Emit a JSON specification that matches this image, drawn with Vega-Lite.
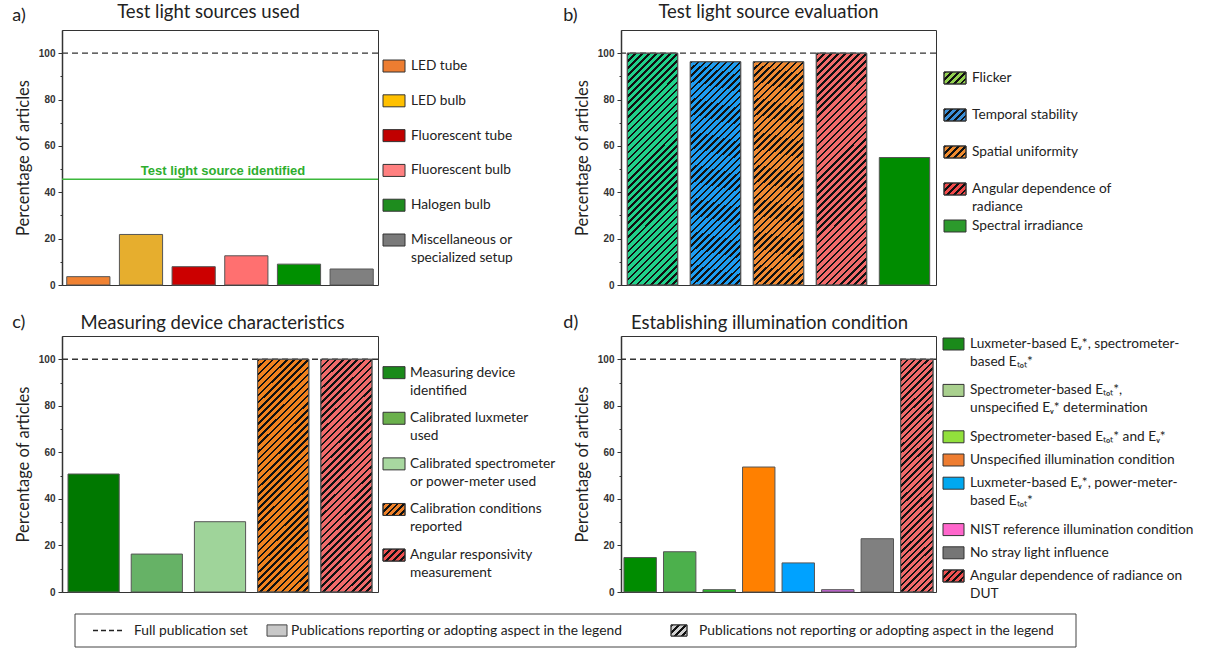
{
"$schema": "https://vega.github.io/schema/vega-lite/v6.json",
"background": "white",
"padding": {"left": 11, "top": 1, "right": 2, "bottom": 2},
"datasets": {
  "ref": [{"set": "Full publication set", "pct": 100}],
  "ident": [{"label": "Test light source identified", "pct": 45.6}],
  "a": [
    {"source": "LED tube", "pct": 3.6},
    {"source": "LED bulb", "pct": 21.8},
    {"source": "Fluorescent tube", "pct": 7.9},
    {"source": "Fluorescent bulb", "pct": 12.6},
    {"source": "Halogen bulb", "pct": 9.0},
    {"source": "Miscellaneous or\nspecialized setup", "pct": 6.9}
  ],
  "b": [
    {"aspect": "Flicker", "pct": 100, "reported": "No"},
    {"aspect": "Temporal stability", "pct": 96.3, "reported": "No"},
    {"aspect": "Spatial uniformity", "pct": 96.3, "reported": "No"},
    {"aspect": "Angular dependence of\nradiance", "pct": 100, "reported": "No"},
    {"aspect": "Spectral irradiance", "pct": 55.0, "reported": "Yes"}
  ],
  "c": [
    {"aspect": "Measuring device\nidentified", "pct": 50.7, "reported": "Yes"},
    {"aspect": "Calibrated luxmeter\nused", "pct": 16.3, "reported": "Yes"},
    {"aspect": "Calibrated spectrometer\nor power-meter used", "pct": 30.2, "reported": "Yes"},
    {"aspect": "Calibration conditions\nreported", "pct": 100, "reported": "No"},
    {"aspect": "Angular responsivity\nmeasurement", "pct": 100, "reported": "No"}
  ],
  "d": [
    {"condition": "Luxmeter-based E\u1d65*, spectrometer-\nbased E\u209c\u2092\u209c*", "pct": 14.8, "reported": "Yes"},
    {"condition": "Spectrometer-based E\u209c\u2092\u209c*,\nunspecified E\u1d65* determination", "pct": 17.3, "reported": "Yes"},
    {"condition": "Spectrometer-based E\u209c\u2092\u209c* and E\u1d65*", "pct": 1.0, "reported": "Yes"},
    {"condition": "Unspecified illumination condition", "pct": 53.7, "reported": "Yes"},
    {"condition": "Luxmeter-based E\u1d65*, power-meter-\nbased E\u209c\u2092\u209c*", "pct": 12.5, "reported": "Yes"},
    {"condition": "NIST reference illumination condition", "pct": 1.0, "reported": "Yes"},
    {"condition": "No stray light influence", "pct": 22.9, "reported": "Yes"},
    {"condition": "Angular dependence of radiance on\nDUT", "pct": 100, "reported": "No"}
  ],
  "key": [
    {"entry": "Full publication set"},
    {"entry": "Publications reporting or adopting aspect in the legend"},
    {"entry": "Publications not reporting or adopting aspect in the legend"}
  ]
},
"columns": 4,
"bounds": "flush",
"align": "each",
"spacing": {"row": 22, "column": 0},
"resolve": {"scale": {"color": "independent", "x": "independent", "y": "independent"}},
"concat": [
  {
    "width": 316, "height": 255,
    "title": {"text": "a)", "dx": -3, "offset": -22.5},
    "encoding": {"y": {"field": "pct", "type": "quantitative", "title": "Percentage of articles", "scale": {"domain": [0, 110], "nice": false}, "axis": {"values": [0,10,20,30,40,50,60,70,80,90,100], "labelExpr": "datum.value % 20 === 0 ? datum.label : ''", "tickSize": {"condition": {"test": "datum.value % 20 !== 0", "value": 2}, "value": 4}, "labelPadding": 3, "titlePadding": 7, "domainWidth": 1.5}}},
    "layer": [
      {"data": {"name": "ref"}, "mark": {"type": "rule", "color": "#333", "strokeWidth": 1.3, "strokeDash": [6, 4]}, "encoding": {}},
      {"data": {"name": "ident"}, "mark": {"type": "rule", "color": "#3cb83c", "strokeWidth": 1.5}, "encoding": {}},
      {"data": {"name": "ident"}, "mark": {"type": "text", "font": "Liberation Sans", "fontWeight": "bold", "fontSize": 13, "color": "#2eae2e", "baseline": "alphabetic", "dy": -4, "dx": 3}, "encoding": {"text": {"field": "label"}}},
      {"data": {"name": "a"}, "mark": {"type": "bar", "stroke": "#555", "strokeWidth": 1},
       "encoding": {
         "x": {"field": "source", "type": "nominal", "sort": null, "scale": {"paddingInner": 0.18, "paddingOuter": 0.09}, "axis": {"orient": "top", "labels": false, "ticks": false, "domain": false, "title": "Test light sources used", "titlePadding": 9, "titleX": 146}},
         "color": {"field": "source", "type": "nominal", "sort": null, "scale": {"range": ["#f08232", "#e6ae2e", "#cc0000", "#ff7070", "#009000", "#808080"]}, "legend": null}
       }}
    ]
  },
  {
    "width": 243, "height": 284,
    "view": {"stroke": null},
    "data": {"name": "a"},
    "encoding": {"y": {"field": "source", "type": "nominal", "sort": null, "axis": null, "scale": {"type": "band", "paddingInner": 0.655, "paddingOuter": 0.908, "align": 0.475,
      "domain": ["LED tube", "LED bulb", "Fluorescent tube", "Fluorescent bulb", "Halogen bulb", "Miscellaneous or\nspecialized setup", "slotEnd"]}}},
    "layer": [
      {"mark": {"type": "rect", "stroke": "#333", "strokeWidth": 1},
       "encoding": {
         "x": {"datum": 5, "type": "quantitative", "scale": {"domain": [0, 243], "nice": false, "zero": false}, "axis": null},
         "x2": {"datum": 27},
         "color": {"field": "source", "type": "nominal", "sort": null, "scale": {"range": ["#ed7d31", "#ffc000", "#c00000", "#ff8080", "#1e8c1e", "#7a7a7a"]}, "legend": null}
       }},
      {"mark": {"type": "text", "align": "left", "baseline": "top", "dy": -7, "fontSize": 13.7, "lineHeight": 18, "lineBreak": "\n", "color": "#222"},
       "encoding": {"x": {"datum": 33, "type": "quantitative"}, "text": {"field": "source"}}}
    ]
  },
  {
    "width": 315, "height": 255,
    "title": {"text": "b)", "dx": -11, "offset": -22.5},
    "encoding": {"y": {"field": "pct", "type": "quantitative", "title": "Percentage of articles", "scale": {"domain": [0, 110], "nice": false}, "axis": {"values": [0,10,20,30,40,50,60,70,80,90,100], "labelExpr": "datum.value % 20 === 0 ? datum.label : ''", "tickSize": {"condition": {"test": "datum.value % 20 !== 0", "value": 2}, "value": 4}, "labelPadding": 3, "titlePadding": 7, "domainWidth": 1.5}}},
    "layer": [
      {"data": {"name": "ref"}, "mark": {"type": "rule", "color": "#333", "strokeWidth": 1.3, "strokeDash": [6, 4]}, "encoding": {}},
      {"data": {"name": "b"}, "mark": {"type": "bar", "stroke": "#555", "strokeWidth": 1},
       "encoding": {
         "x": {"field": "aspect", "type": "nominal", "sort": null, "scale": {"paddingInner": 0.2, "paddingOuter": 0.1}, "axis": {"orient": "top", "labels": false, "ticks": false, "domain": false, "title": "Test light source evaluation", "titlePadding": 9, "titleX": 147}},
         "color": {"field": "aspect", "type": "nominal", "sort": null, "scale": {"range": ["#20d08a", "#1e9cf0", "#f08a32", "#f26b6b", "#008c00"]}, "legend": null}
       }},
      {"data": {"name": "b"}, "transform": [{"filter": "datum.reported === 'No'"}],
       "mark": {"type": "bar", "stroke": "#555", "strokeWidth": 1, "fill": {"gradient": "linear", "x1": 0, "y1": 0, "x2": 0.2531, "y2": 1.1626, "stops": [
      {"offset":0,"color":"#111"},{"offset":0.009,"color":"#111"},{"offset":0.009,"color":"transparent"},
      {"offset":0.025,"color":"transparent"},{"offset":0.025,"color":"#111"},{"offset":0.034,"color":"#111"},{"offset":0.034,"color":"transparent"},
      {"offset":0.05,"color":"transparent"},{"offset":0.05,"color":"#111"},{"offset":0.059,"color":"#111"},{"offset":0.059,"color":"transparent"},
      {"offset":0.075,"color":"transparent"},{"offset":0.075,"color":"#111"},{"offset":0.084,"color":"#111"},{"offset":0.084,"color":"transparent"},
      {"offset":0.1,"color":"transparent"},{"offset":0.1,"color":"#111"},{"offset":0.109,"color":"#111"},{"offset":0.109,"color":"transparent"},
      {"offset":0.125,"color":"transparent"},{"offset":0.125,"color":"#111"},{"offset":0.134,"color":"#111"},{"offset":0.134,"color":"transparent"},
      {"offset":0.15,"color":"transparent"},{"offset":0.15,"color":"#111"},{"offset":0.159,"color":"#111"},{"offset":0.159,"color":"transparent"},
      {"offset":0.175,"color":"transparent"},{"offset":0.175,"color":"#111"},{"offset":0.184,"color":"#111"},{"offset":0.184,"color":"transparent"},
      {"offset":0.2,"color":"transparent"},{"offset":0.2,"color":"#111"},{"offset":0.209,"color":"#111"},{"offset":0.209,"color":"transparent"},
      {"offset":0.225,"color":"transparent"},{"offset":0.225,"color":"#111"},{"offset":0.234,"color":"#111"},{"offset":0.234,"color":"transparent"},
      {"offset":0.25,"color":"transparent"},{"offset":0.25,"color":"#111"},{"offset":0.259,"color":"#111"},{"offset":0.259,"color":"transparent"},
      {"offset":0.275,"color":"transparent"},{"offset":0.275,"color":"#111"},{"offset":0.284,"color":"#111"},{"offset":0.284,"color":"transparent"},
      {"offset":0.3,"color":"transparent"},{"offset":0.3,"color":"#111"},{"offset":0.309,"color":"#111"},{"offset":0.309,"color":"transparent"},
      {"offset":0.325,"color":"transparent"},{"offset":0.325,"color":"#111"},{"offset":0.334,"color":"#111"},{"offset":0.334,"color":"transparent"},
      {"offset":0.35,"color":"transparent"},{"offset":0.35,"color":"#111"},{"offset":0.359,"color":"#111"},{"offset":0.359,"color":"transparent"},
      {"offset":0.375,"color":"transparent"},{"offset":0.375,"color":"#111"},{"offset":0.384,"color":"#111"},{"offset":0.384,"color":"transparent"},
      {"offset":0.4,"color":"transparent"},{"offset":0.4,"color":"#111"},{"offset":0.409,"color":"#111"},{"offset":0.409,"color":"transparent"},
      {"offset":0.425,"color":"transparent"},{"offset":0.425,"color":"#111"},{"offset":0.434,"color":"#111"},{"offset":0.434,"color":"transparent"},
      {"offset":0.45,"color":"transparent"},{"offset":0.45,"color":"#111"},{"offset":0.459,"color":"#111"},{"offset":0.459,"color":"transparent"},
      {"offset":0.475,"color":"transparent"},{"offset":0.475,"color":"#111"},{"offset":0.484,"color":"#111"},{"offset":0.484,"color":"transparent"},
      {"offset":0.5,"color":"transparent"},{"offset":0.5,"color":"#111"},{"offset":0.509,"color":"#111"},{"offset":0.509,"color":"transparent"},
      {"offset":0.525,"color":"transparent"},{"offset":0.525,"color":"#111"},{"offset":0.534,"color":"#111"},{"offset":0.534,"color":"transparent"},
      {"offset":0.55,"color":"transparent"},{"offset":0.55,"color":"#111"},{"offset":0.559,"color":"#111"},{"offset":0.559,"color":"transparent"},
      {"offset":0.575,"color":"transparent"},{"offset":0.575,"color":"#111"},{"offset":0.584,"color":"#111"},{"offset":0.584,"color":"transparent"},
      {"offset":0.6,"color":"transparent"},{"offset":0.6,"color":"#111"},{"offset":0.609,"color":"#111"},{"offset":0.609,"color":"transparent"},
      {"offset":0.625,"color":"transparent"},{"offset":0.625,"color":"#111"},{"offset":0.634,"color":"#111"},{"offset":0.634,"color":"transparent"},
      {"offset":0.65,"color":"transparent"},{"offset":0.65,"color":"#111"},{"offset":0.659,"color":"#111"},{"offset":0.659,"color":"transparent"},
      {"offset":0.675,"color":"transparent"},{"offset":0.675,"color":"#111"},{"offset":0.684,"color":"#111"},{"offset":0.684,"color":"transparent"},
      {"offset":0.7,"color":"transparent"},{"offset":0.7,"color":"#111"},{"offset":0.709,"color":"#111"},{"offset":0.709,"color":"transparent"},
      {"offset":0.725,"color":"transparent"},{"offset":0.725,"color":"#111"},{"offset":0.734,"color":"#111"},{"offset":0.734,"color":"transparent"},
      {"offset":0.75,"color":"transparent"},{"offset":0.75,"color":"#111"},{"offset":0.759,"color":"#111"},{"offset":0.759,"color":"transparent"},
      {"offset":0.775,"color":"transparent"},{"offset":0.775,"color":"#111"},{"offset":0.784,"color":"#111"},{"offset":0.784,"color":"transparent"},
      {"offset":0.8,"color":"transparent"},{"offset":0.8,"color":"#111"},{"offset":0.809,"color":"#111"},{"offset":0.809,"color":"transparent"},
      {"offset":0.825,"color":"transparent"},{"offset":0.825,"color":"#111"},{"offset":0.834,"color":"#111"},{"offset":0.834,"color":"transparent"},
      {"offset":0.85,"color":"transparent"},{"offset":0.85,"color":"#111"},{"offset":0.859,"color":"#111"},{"offset":0.859,"color":"transparent"},
      {"offset":0.875,"color":"transparent"},{"offset":0.875,"color":"#111"},{"offset":0.884,"color":"#111"},{"offset":0.884,"color":"transparent"},
      {"offset":0.9,"color":"transparent"},{"offset":0.9,"color":"#111"},{"offset":0.909,"color":"#111"},{"offset":0.909,"color":"transparent"},
      {"offset":0.925,"color":"transparent"},{"offset":0.925,"color":"#111"},{"offset":0.934,"color":"#111"},{"offset":0.934,"color":"transparent"},
      {"offset":0.95,"color":"transparent"},{"offset":0.95,"color":"#111"},{"offset":0.959,"color":"#111"},{"offset":0.959,"color":"transparent"},
      {"offset":0.975,"color":"transparent"},{"offset":0.975,"color":"#111"},{"offset":0.984,"color":"#111"},{"offset":0.984,"color":"transparent"},
      {"offset":1,"color":"transparent"}]}},
       "encoding": {
         "x": {"field": "aspect", "type": "nominal", "sort": null, "scale": {"paddingInner": 0.2, "paddingOuter": 0.1}, "axis": {"orient": "top", "labels": false, "ticks": false, "domain": false, "title": "Test light source evaluation", "titlePadding": 9, "titleX": 147}}
       }}
    ]
  },
  {
    "width": 262, "height": 255,
    "view": {"stroke": null},
    "data": {"name": "b"},
    "encoding": {"y": {"field": "aspect", "type": "nominal", "sort": null, "axis": null, "scale": {"type": "band", "paddingInner": 0.676, "paddingOuter": 0.784, "align": 0.724,
      "domain": ["Flicker", "Temporal stability", "Spatial uniformity", "Angular dependence of\nradiance", "Spectral irradiance", "slotEnd"]}}},
    "layer": [
      {"mark": {"type": "rect", "stroke": "#333", "strokeWidth": 1},
       "encoding": {
         "x": {"datum": 8, "type": "quantitative", "scale": {"domain": [0, 262], "nice": false, "zero": false}, "axis": null},
         "x2": {"datum": 30},
         "color": {"field": "aspect", "type": "nominal", "sort": null, "scale": {"range": ["#92d050", "#3b8fd8", "#ee8a2e", "#f04a4a", "#2c9a2c"]}, "legend": null}
       }},
      {"transform": [{"filter": "datum.reported === 'No'"}],
       "mark": {"type": "rect", "stroke": "#333", "strokeWidth": 1, "fill": {"gradient": "linear", "x1": 0, "y1": 0, "x2": 1.1912, "y2": 0.6497, "stops": [
      {"offset":0,"color":"#111"},{"offset":0.08,"color":"#111"},{"offset":0.08,"color":"transparent"},
      {"offset":0.2,"color":"transparent"},{"offset":0.2,"color":"#111"},{"offset":0.28,"color":"#111"},{"offset":0.28,"color":"transparent"},
      {"offset":0.4,"color":"transparent"},{"offset":0.4,"color":"#111"},{"offset":0.48,"color":"#111"},{"offset":0.48,"color":"transparent"},
      {"offset":0.6,"color":"transparent"},{"offset":0.6,"color":"#111"},{"offset":0.68,"color":"#111"},{"offset":0.68,"color":"transparent"},
      {"offset":0.8,"color":"transparent"},{"offset":0.8,"color":"#111"},{"offset":0.88,"color":"#111"},{"offset":0.88,"color":"transparent"},
      {"offset":1,"color":"transparent"}]}},
       "encoding": {"x": {"datum": 8, "type": "quantitative"}, "x2": {"datum": 30}}},
      {"mark": {"type": "text", "align": "left", "baseline": "top", "dy": -7, "fontSize": 13.7, "lineHeight": 18, "lineBreak": "\n", "color": "#222"},
       "encoding": {"x": {"datum": 36, "type": "quantitative"}, "text": {"field": "aspect"}}}
    ]
  },
  {
    "width": 316, "height": 256,
    "title": {"text": "c)", "dx": -3, "offset": -18},
    "encoding": {"y": {"field": "pct", "type": "quantitative", "title": "Percentage of articles", "scale": {"domain": [0, 110], "nice": false}, "axis": {"values": [0,10,20,30,40,50,60,70,80,90,100], "labelExpr": "datum.value % 20 === 0 ? datum.label : ''", "tickSize": {"condition": {"test": "datum.value % 20 !== 0", "value": 2}, "value": 4}, "labelPadding": 3, "titlePadding": 7, "domainWidth": 1.5}}},
    "layer": [
      {"data": {"name": "ref"}, "mark": {"type": "rule", "color": "#333", "strokeWidth": 1.3, "strokeDash": [6, 4]}, "encoding": {}},
      {"data": {"name": "c"}, "mark": {"type": "bar", "stroke": "#555", "strokeWidth": 1},
       "encoding": {
         "x": {"field": "aspect", "type": "nominal", "sort": null, "scale": {"paddingInner": 0.19, "paddingOuter": 0.095}, "axis": {"orient": "top", "labels": false, "ticks": false, "domain": false, "title": "Measuring device characteristics", "titlePadding": 3.5, "titleX": 150}},
         "color": {"field": "aspect", "type": "nominal", "sort": null, "scale": {"range": ["#007800", "#66b266", "#9fd49a", "#f0821e", "#f06a6a"]}, "legend": null}
       }},
      {"data": {"name": "c"}, "transform": [{"filter": "datum.reported === 'No'"}],
       "mark": {"type": "bar", "stroke": "#555", "strokeWidth": 1, "fill": {"gradient": "linear", "x1": 0, "y1": 0, "x2": 0.2531, "y2": 1.1626, "stops": [
      {"offset":0,"color":"#111"},{"offset":0.009,"color":"#111"},{"offset":0.009,"color":"transparent"},
      {"offset":0.025,"color":"transparent"},{"offset":0.025,"color":"#111"},{"offset":0.034,"color":"#111"},{"offset":0.034,"color":"transparent"},
      {"offset":0.05,"color":"transparent"},{"offset":0.05,"color":"#111"},{"offset":0.059,"color":"#111"},{"offset":0.059,"color":"transparent"},
      {"offset":0.075,"color":"transparent"},{"offset":0.075,"color":"#111"},{"offset":0.084,"color":"#111"},{"offset":0.084,"color":"transparent"},
      {"offset":0.1,"color":"transparent"},{"offset":0.1,"color":"#111"},{"offset":0.109,"color":"#111"},{"offset":0.109,"color":"transparent"},
      {"offset":0.125,"color":"transparent"},{"offset":0.125,"color":"#111"},{"offset":0.134,"color":"#111"},{"offset":0.134,"color":"transparent"},
      {"offset":0.15,"color":"transparent"},{"offset":0.15,"color":"#111"},{"offset":0.159,"color":"#111"},{"offset":0.159,"color":"transparent"},
      {"offset":0.175,"color":"transparent"},{"offset":0.175,"color":"#111"},{"offset":0.184,"color":"#111"},{"offset":0.184,"color":"transparent"},
      {"offset":0.2,"color":"transparent"},{"offset":0.2,"color":"#111"},{"offset":0.209,"color":"#111"},{"offset":0.209,"color":"transparent"},
      {"offset":0.225,"color":"transparent"},{"offset":0.225,"color":"#111"},{"offset":0.234,"color":"#111"},{"offset":0.234,"color":"transparent"},
      {"offset":0.25,"color":"transparent"},{"offset":0.25,"color":"#111"},{"offset":0.259,"color":"#111"},{"offset":0.259,"color":"transparent"},
      {"offset":0.275,"color":"transparent"},{"offset":0.275,"color":"#111"},{"offset":0.284,"color":"#111"},{"offset":0.284,"color":"transparent"},
      {"offset":0.3,"color":"transparent"},{"offset":0.3,"color":"#111"},{"offset":0.309,"color":"#111"},{"offset":0.309,"color":"transparent"},
      {"offset":0.325,"color":"transparent"},{"offset":0.325,"color":"#111"},{"offset":0.334,"color":"#111"},{"offset":0.334,"color":"transparent"},
      {"offset":0.35,"color":"transparent"},{"offset":0.35,"color":"#111"},{"offset":0.359,"color":"#111"},{"offset":0.359,"color":"transparent"},
      {"offset":0.375,"color":"transparent"},{"offset":0.375,"color":"#111"},{"offset":0.384,"color":"#111"},{"offset":0.384,"color":"transparent"},
      {"offset":0.4,"color":"transparent"},{"offset":0.4,"color":"#111"},{"offset":0.409,"color":"#111"},{"offset":0.409,"color":"transparent"},
      {"offset":0.425,"color":"transparent"},{"offset":0.425,"color":"#111"},{"offset":0.434,"color":"#111"},{"offset":0.434,"color":"transparent"},
      {"offset":0.45,"color":"transparent"},{"offset":0.45,"color":"#111"},{"offset":0.459,"color":"#111"},{"offset":0.459,"color":"transparent"},
      {"offset":0.475,"color":"transparent"},{"offset":0.475,"color":"#111"},{"offset":0.484,"color":"#111"},{"offset":0.484,"color":"transparent"},
      {"offset":0.5,"color":"transparent"},{"offset":0.5,"color":"#111"},{"offset":0.509,"color":"#111"},{"offset":0.509,"color":"transparent"},
      {"offset":0.525,"color":"transparent"},{"offset":0.525,"color":"#111"},{"offset":0.534,"color":"#111"},{"offset":0.534,"color":"transparent"},
      {"offset":0.55,"color":"transparent"},{"offset":0.55,"color":"#111"},{"offset":0.559,"color":"#111"},{"offset":0.559,"color":"transparent"},
      {"offset":0.575,"color":"transparent"},{"offset":0.575,"color":"#111"},{"offset":0.584,"color":"#111"},{"offset":0.584,"color":"transparent"},
      {"offset":0.6,"color":"transparent"},{"offset":0.6,"color":"#111"},{"offset":0.609,"color":"#111"},{"offset":0.609,"color":"transparent"},
      {"offset":0.625,"color":"transparent"},{"offset":0.625,"color":"#111"},{"offset":0.634,"color":"#111"},{"offset":0.634,"color":"transparent"},
      {"offset":0.65,"color":"transparent"},{"offset":0.65,"color":"#111"},{"offset":0.659,"color":"#111"},{"offset":0.659,"color":"transparent"},
      {"offset":0.675,"color":"transparent"},{"offset":0.675,"color":"#111"},{"offset":0.684,"color":"#111"},{"offset":0.684,"color":"transparent"},
      {"offset":0.7,"color":"transparent"},{"offset":0.7,"color":"#111"},{"offset":0.709,"color":"#111"},{"offset":0.709,"color":"transparent"},
      {"offset":0.725,"color":"transparent"},{"offset":0.725,"color":"#111"},{"offset":0.734,"color":"#111"},{"offset":0.734,"color":"transparent"},
      {"offset":0.75,"color":"transparent"},{"offset":0.75,"color":"#111"},{"offset":0.759,"color":"#111"},{"offset":0.759,"color":"transparent"},
      {"offset":0.775,"color":"transparent"},{"offset":0.775,"color":"#111"},{"offset":0.784,"color":"#111"},{"offset":0.784,"color":"transparent"},
      {"offset":0.8,"color":"transparent"},{"offset":0.8,"color":"#111"},{"offset":0.809,"color":"#111"},{"offset":0.809,"color":"transparent"},
      {"offset":0.825,"color":"transparent"},{"offset":0.825,"color":"#111"},{"offset":0.834,"color":"#111"},{"offset":0.834,"color":"transparent"},
      {"offset":0.85,"color":"transparent"},{"offset":0.85,"color":"#111"},{"offset":0.859,"color":"#111"},{"offset":0.859,"color":"transparent"},
      {"offset":0.875,"color":"transparent"},{"offset":0.875,"color":"#111"},{"offset":0.884,"color":"#111"},{"offset":0.884,"color":"transparent"},
      {"offset":0.9,"color":"transparent"},{"offset":0.9,"color":"#111"},{"offset":0.909,"color":"#111"},{"offset":0.909,"color":"transparent"},
      {"offset":0.925,"color":"transparent"},{"offset":0.925,"color":"#111"},{"offset":0.934,"color":"#111"},{"offset":0.934,"color":"transparent"},
      {"offset":0.95,"color":"transparent"},{"offset":0.95,"color":"#111"},{"offset":0.959,"color":"#111"},{"offset":0.959,"color":"transparent"},
      {"offset":0.975,"color":"transparent"},{"offset":0.975,"color":"#111"},{"offset":0.984,"color":"#111"},{"offset":0.984,"color":"transparent"},
      {"offset":1,"color":"transparent"}]}},
       "encoding": {
         "x": {"field": "aspect", "type": "nominal", "sort": null, "scale": {"paddingInner": 0.19, "paddingOuter": 0.095}, "axis": {"orient": "top", "labels": false, "ticks": false, "domain": false, "title": "Measuring device characteristics", "titlePadding": 3.5, "titleX": 150}}
       }}
    ]
  },
  {
    "width": 243, "height": 256,
    "view": {"stroke": null},
    "data": {"name": "c"},
    "encoding": {"y": {"field": "aspect", "type": "nominal", "sort": null, "axis": null, "scale": {"type": "band", "paddingInner": 0.737, "paddingOuter": 0.675, "align": 0.498}}},
    "layer": [
      {"mark": {"type": "rect", "stroke": "#333", "strokeWidth": 1},
       "encoding": {
         "x": {"datum": 5, "type": "quantitative", "scale": {"domain": [0, 243], "nice": false, "zero": false}, "axis": null},
         "x2": {"datum": 27},
         "color": {"field": "aspect", "type": "nominal", "sort": null, "scale": {"range": ["#1a8a1a", "#6ab04c", "#a8d8a0", "#ee8028", "#f05050"]}, "legend": null}
       }},
      {"transform": [{"filter": "datum.reported === 'No'"}],
       "mark": {"type": "rect", "stroke": "#333", "strokeWidth": 1, "fill": {"gradient": "linear", "x1": 0, "y1": 0, "x2": 1.1912, "y2": 0.6497, "stops": [
      {"offset":0,"color":"#111"},{"offset":0.08,"color":"#111"},{"offset":0.08,"color":"transparent"},
      {"offset":0.2,"color":"transparent"},{"offset":0.2,"color":"#111"},{"offset":0.28,"color":"#111"},{"offset":0.28,"color":"transparent"},
      {"offset":0.4,"color":"transparent"},{"offset":0.4,"color":"#111"},{"offset":0.48,"color":"#111"},{"offset":0.48,"color":"transparent"},
      {"offset":0.6,"color":"transparent"},{"offset":0.6,"color":"#111"},{"offset":0.68,"color":"#111"},{"offset":0.68,"color":"transparent"},
      {"offset":0.8,"color":"transparent"},{"offset":0.8,"color":"#111"},{"offset":0.88,"color":"#111"},{"offset":0.88,"color":"transparent"},
      {"offset":1,"color":"transparent"}]}},
       "encoding": {"x": {"datum": 5, "type": "quantitative"}, "x2": {"datum": 27}}},
      {"mark": {"type": "text", "align": "left", "baseline": "top", "dy": -7, "fontSize": 13.7, "lineHeight": 18, "lineBreak": "\n", "color": "#222"},
       "encoding": {"x": {"datum": 32, "type": "quantitative"}, "text": {"field": "aspect"}}}
    ]
  },
  {
    "width": 315, "height": 256,
    "title": {"text": "d)", "dx": -11, "offset": -18},
    "encoding": {"y": {"field": "pct", "type": "quantitative", "title": "Percentage of articles", "scale": {"domain": [0, 110], "nice": false}, "axis": {"values": [0,10,20,30,40,50,60,70,80,90,100], "labelExpr": "datum.value % 20 === 0 ? datum.label : ''", "tickSize": {"condition": {"test": "datum.value % 20 !== 0", "value": 2}, "value": 4}, "labelPadding": 3, "titlePadding": 7, "domainWidth": 1.5}}},
    "layer": [
      {"data": {"name": "ref"}, "mark": {"type": "rule", "color": "#333", "strokeWidth": 1.3, "strokeDash": [6, 4]}, "encoding": {}},
      {"data": {"name": "d"}, "mark": {"type": "bar", "stroke": "#555", "strokeWidth": 1},
       "encoding": {
         "x": {"field": "condition", "type": "nominal", "sort": null, "scale": {"paddingInner": 0.18, "paddingOuter": 0.075}, "axis": {"orient": "top", "labels": false, "ticks": false, "domain": false, "title": "Establishing illumination condition", "titlePadding": 3.5, "titleX": 148}},
         "color": {"field": "condition", "type": "nominal", "sort": null, "scale": {"range": ["#008c00", "#4cb04c", "#1fcc1f", "#ff8000", "#00a2ff", "#cc66dd", "#808080", "#f06a6a"]}, "legend": null}
       }},
      {"data": {"name": "d"}, "transform": [{"filter": "datum.reported === 'No'"}],
       "mark": {"type": "bar", "stroke": "#555", "strokeWidth": 1, "fill": {"gradient": "linear", "x1": 0, "y1": 0, "x2": 0.154, "y2": 1.1167, "stops": [
      {"offset":0,"color":"#111"},{"offset":0.009,"color":"#111"},{"offset":0.009,"color":"transparent"},
      {"offset":0.025,"color":"transparent"},{"offset":0.025,"color":"#111"},{"offset":0.034,"color":"#111"},{"offset":0.034,"color":"transparent"},
      {"offset":0.05,"color":"transparent"},{"offset":0.05,"color":"#111"},{"offset":0.059,"color":"#111"},{"offset":0.059,"color":"transparent"},
      {"offset":0.075,"color":"transparent"},{"offset":0.075,"color":"#111"},{"offset":0.084,"color":"#111"},{"offset":0.084,"color":"transparent"},
      {"offset":0.1,"color":"transparent"},{"offset":0.1,"color":"#111"},{"offset":0.109,"color":"#111"},{"offset":0.109,"color":"transparent"},
      {"offset":0.125,"color":"transparent"},{"offset":0.125,"color":"#111"},{"offset":0.134,"color":"#111"},{"offset":0.134,"color":"transparent"},
      {"offset":0.15,"color":"transparent"},{"offset":0.15,"color":"#111"},{"offset":0.159,"color":"#111"},{"offset":0.159,"color":"transparent"},
      {"offset":0.175,"color":"transparent"},{"offset":0.175,"color":"#111"},{"offset":0.184,"color":"#111"},{"offset":0.184,"color":"transparent"},
      {"offset":0.2,"color":"transparent"},{"offset":0.2,"color":"#111"},{"offset":0.209,"color":"#111"},{"offset":0.209,"color":"transparent"},
      {"offset":0.225,"color":"transparent"},{"offset":0.225,"color":"#111"},{"offset":0.234,"color":"#111"},{"offset":0.234,"color":"transparent"},
      {"offset":0.25,"color":"transparent"},{"offset":0.25,"color":"#111"},{"offset":0.259,"color":"#111"},{"offset":0.259,"color":"transparent"},
      {"offset":0.275,"color":"transparent"},{"offset":0.275,"color":"#111"},{"offset":0.284,"color":"#111"},{"offset":0.284,"color":"transparent"},
      {"offset":0.3,"color":"transparent"},{"offset":0.3,"color":"#111"},{"offset":0.309,"color":"#111"},{"offset":0.309,"color":"transparent"},
      {"offset":0.325,"color":"transparent"},{"offset":0.325,"color":"#111"},{"offset":0.334,"color":"#111"},{"offset":0.334,"color":"transparent"},
      {"offset":0.35,"color":"transparent"},{"offset":0.35,"color":"#111"},{"offset":0.359,"color":"#111"},{"offset":0.359,"color":"transparent"},
      {"offset":0.375,"color":"transparent"},{"offset":0.375,"color":"#111"},{"offset":0.384,"color":"#111"},{"offset":0.384,"color":"transparent"},
      {"offset":0.4,"color":"transparent"},{"offset":0.4,"color":"#111"},{"offset":0.409,"color":"#111"},{"offset":0.409,"color":"transparent"},
      {"offset":0.425,"color":"transparent"},{"offset":0.425,"color":"#111"},{"offset":0.434,"color":"#111"},{"offset":0.434,"color":"transparent"},
      {"offset":0.45,"color":"transparent"},{"offset":0.45,"color":"#111"},{"offset":0.459,"color":"#111"},{"offset":0.459,"color":"transparent"},
      {"offset":0.475,"color":"transparent"},{"offset":0.475,"color":"#111"},{"offset":0.484,"color":"#111"},{"offset":0.484,"color":"transparent"},
      {"offset":0.5,"color":"transparent"},{"offset":0.5,"color":"#111"},{"offset":0.509,"color":"#111"},{"offset":0.509,"color":"transparent"},
      {"offset":0.525,"color":"transparent"},{"offset":0.525,"color":"#111"},{"offset":0.534,"color":"#111"},{"offset":0.534,"color":"transparent"},
      {"offset":0.55,"color":"transparent"},{"offset":0.55,"color":"#111"},{"offset":0.559,"color":"#111"},{"offset":0.559,"color":"transparent"},
      {"offset":0.575,"color":"transparent"},{"offset":0.575,"color":"#111"},{"offset":0.584,"color":"#111"},{"offset":0.584,"color":"transparent"},
      {"offset":0.6,"color":"transparent"},{"offset":0.6,"color":"#111"},{"offset":0.609,"color":"#111"},{"offset":0.609,"color":"transparent"},
      {"offset":0.625,"color":"transparent"},{"offset":0.625,"color":"#111"},{"offset":0.634,"color":"#111"},{"offset":0.634,"color":"transparent"},
      {"offset":0.65,"color":"transparent"},{"offset":0.65,"color":"#111"},{"offset":0.659,"color":"#111"},{"offset":0.659,"color":"transparent"},
      {"offset":0.675,"color":"transparent"},{"offset":0.675,"color":"#111"},{"offset":0.684,"color":"#111"},{"offset":0.684,"color":"transparent"},
      {"offset":0.7,"color":"transparent"},{"offset":0.7,"color":"#111"},{"offset":0.709,"color":"#111"},{"offset":0.709,"color":"transparent"},
      {"offset":0.725,"color":"transparent"},{"offset":0.725,"color":"#111"},{"offset":0.734,"color":"#111"},{"offset":0.734,"color":"transparent"},
      {"offset":0.75,"color":"transparent"},{"offset":0.75,"color":"#111"},{"offset":0.759,"color":"#111"},{"offset":0.759,"color":"transparent"},
      {"offset":0.775,"color":"transparent"},{"offset":0.775,"color":"#111"},{"offset":0.784,"color":"#111"},{"offset":0.784,"color":"transparent"},
      {"offset":0.8,"color":"transparent"},{"offset":0.8,"color":"#111"},{"offset":0.809,"color":"#111"},{"offset":0.809,"color":"transparent"},
      {"offset":0.825,"color":"transparent"},{"offset":0.825,"color":"#111"},{"offset":0.834,"color":"#111"},{"offset":0.834,"color":"transparent"},
      {"offset":0.85,"color":"transparent"},{"offset":0.85,"color":"#111"},{"offset":0.859,"color":"#111"},{"offset":0.859,"color":"transparent"},
      {"offset":0.875,"color":"transparent"},{"offset":0.875,"color":"#111"},{"offset":0.884,"color":"#111"},{"offset":0.884,"color":"transparent"},
      {"offset":0.9,"color":"transparent"},{"offset":0.9,"color":"#111"},{"offset":0.909,"color":"#111"},{"offset":0.909,"color":"transparent"},
      {"offset":0.925,"color":"transparent"},{"offset":0.925,"color":"#111"},{"offset":0.934,"color":"#111"},{"offset":0.934,"color":"transparent"},
      {"offset":0.95,"color":"transparent"},{"offset":0.95,"color":"#111"},{"offset":0.959,"color":"#111"},{"offset":0.959,"color":"transparent"},
      {"offset":0.975,"color":"transparent"},{"offset":0.975,"color":"#111"},{"offset":0.984,"color":"#111"},{"offset":0.984,"color":"transparent"},
      {"offset":1,"color":"transparent"}]}},
       "encoding": {
         "x": {"field": "condition", "type": "nominal", "sort": null, "scale": {"paddingInner": 0.18, "paddingOuter": 0.075}, "axis": {"orient": "top", "labels": false, "ticks": false, "domain": false, "title": "Establishing illumination condition", "titlePadding": 3.5, "titleX": 148}}
       }}
    ]
  },
  {
    "width": 262, "height": 256,
    "view": {"stroke": null},
    "data": {"name": "d"},
    "encoding": {"y": {"field": "condition", "type": "nominal", "sort": null, "axis": null, "scale": {"type": "band", "paddingInner": 0.483, "paddingOuter": 0.259, "align": 0.167,
      "domain": ["Luxmeter-based E\u1d65*, spectrometer-\nbased E\u209c\u2092\u209c*", "slot1", "Spectrometer-based E\u209c\u2092\u209c*,\nunspecified E\u1d65* determination", "slot2", "Spectrometer-based E\u209c\u2092\u209c* and E\u1d65*", "Unspecified illumination condition", "Luxmeter-based E\u1d65*, power-meter-\nbased E\u209c\u2092\u209c*", "slot5", "NIST reference illumination condition", "No stray light influence", "Angular dependence of radiance on\nDUT"]}}},
    "layer": [
      {"mark": {"type": "rect", "stroke": "#333", "strokeWidth": 1},
       "encoding": {
         "x": {"datum": 7, "type": "quantitative", "scale": {"domain": [0, 262], "nice": false, "zero": false}, "axis": null},
         "x2": {"datum": 28},
         "color": {"field": "condition", "type": "nominal", "sort": null, "scale": {"range": ["#1a8a1a", "#a9d08e", "#92e03c", "#ee7d31", "#00a8f0", "#ff66cc", "#767676", "#f05050"]}, "legend": null}
       }},
      {"transform": [{"filter": "datum.reported === 'No'"}],
       "mark": {"type": "rect", "stroke": "#333", "strokeWidth": 1, "fill": {"gradient": "linear", "x1": 0, "y1": 0, "x2": 1.1912, "y2": 0.6497, "stops": [
      {"offset":0,"color":"#111"},{"offset":0.08,"color":"#111"},{"offset":0.08,"color":"transparent"},
      {"offset":0.2,"color":"transparent"},{"offset":0.2,"color":"#111"},{"offset":0.28,"color":"#111"},{"offset":0.28,"color":"transparent"},
      {"offset":0.4,"color":"transparent"},{"offset":0.4,"color":"#111"},{"offset":0.48,"color":"#111"},{"offset":0.48,"color":"transparent"},
      {"offset":0.6,"color":"transparent"},{"offset":0.6,"color":"#111"},{"offset":0.68,"color":"#111"},{"offset":0.68,"color":"transparent"},
      {"offset":0.8,"color":"transparent"},{"offset":0.8,"color":"#111"},{"offset":0.88,"color":"#111"},{"offset":0.88,"color":"transparent"},
      {"offset":1,"color":"transparent"}]}},
       "encoding": {"x": {"datum": 7, "type": "quantitative"}, "x2": {"datum": 28}}},
      {"mark": {"type": "text", "align": "left", "baseline": "top", "dy": -7, "fontSize": 13.7, "lineHeight": 18, "lineBreak": "\n", "color": "#222"},
       "encoding": {"x": {"datum": 34, "type": "quantitative"}, "text": {"field": "condition"}}}
    ]
  },
  {
    "width": 316, "height": 33,
    "view": {"stroke": null},
    "data": {"name": "key"},
    "layer": [
      {"transform": [{"filter": "datum.entry === 'Full publication set'"}], "mark": {"type": "rect", "fill": "white", "stroke": "#444", "strokeWidth": 1},
       "encoding": {
         "x": {"datum": 13, "type": "quantitative", "scale": {"domain": [0, 316], "nice": false, "zero": false}, "axis": null},
         "x2": {"datum": 1014},
         "y": {"datum": 0, "type": "quantitative", "scale": {"domain": [0, 1], "nice": false}, "axis": null},
         "y2": {"datum": 1}
       }},
      {"transform": [{"filter": "datum.entry === 'Full publication set'"}], "mark": {"type": "rule", "color": "#222", "strokeWidth": 1.3, "strokeDash": [5, 3]},
       "encoding": {"x": {"datum": 31, "type": "quantitative"}, "x2": {"datum": 63}, "y": {"datum": 0.5, "type": "quantitative"}}},
      {"transform": [{"filter": "datum.entry === 'Full publication set'"}], "mark": {"type": "text", "align": "left", "baseline": "middle", "fontSize": 13.8, "color": "#222"},
       "encoding": {"x": {"datum": 72, "type": "quantitative"}, "y": {"datum": 0.5, "type": "quantitative"}, "text": {"field": "entry"}}},
      {"transform": [{"filter": "datum.entry === 'Publications reporting or adopting aspect in the legend'"}], "mark": {"type": "rect", "fill": "#c8c8c8", "stroke": "#444", "strokeWidth": 1},
       "encoding": {"x": {"datum": 205, "type": "quantitative"}, "x2": {"datum": 225}, "y": {"datum": 0.33, "type": "quantitative"}, "y2": {"datum": 0.67}}},
      {"transform": [{"filter": "datum.entry === 'Publications reporting or adopting aspect in the legend'"}], "mark": {"type": "text", "align": "left", "baseline": "middle", "fontSize": 13.8, "color": "#222"},
       "encoding": {"x": {"datum": 229, "type": "quantitative"}, "y": {"datum": 0.5, "type": "quantitative"}, "text": {"field": "entry"}}},
      {"transform": [{"filter": "datum.entry === 'Publications not reporting or adopting aspect in the legend'"}], "mark": {"type": "rect", "fill": "#d0d0d0", "stroke": "#444", "strokeWidth": 1},
       "encoding": {"x": {"datum": 609, "type": "quantitative"}, "x2": {"datum": 625}, "y": {"datum": 0.33, "type": "quantitative"}, "y2": {"datum": 0.67}}},
      {"transform": [{"filter": "datum.entry === 'Publications not reporting or adopting aspect in the legend'"}],
       "mark": {"type": "rect", "stroke": "#444", "strokeWidth": 1, "fill": {"gradient": "linear", "x1": 0, "y1": 0, "x2": 1.1459, "y2": 0.7878, "stops": [
      {"offset":0,"color":"#111"},{"offset":0.1,"color":"#111"},{"offset":0.1,"color":"transparent"},
      {"offset":0.25,"color":"transparent"},{"offset":0.25,"color":"#111"},{"offset":0.35,"color":"#111"},{"offset":0.35,"color":"transparent"},
      {"offset":0.5,"color":"transparent"},{"offset":0.5,"color":"#111"},{"offset":0.6,"color":"#111"},{"offset":0.6,"color":"transparent"},
      {"offset":0.75,"color":"transparent"},{"offset":0.75,"color":"#111"},{"offset":0.85,"color":"#111"},{"offset":0.85,"color":"transparent"},
      {"offset":1,"color":"transparent"}]}},
       "encoding": {"x": {"datum": 609, "type": "quantitative"}, "x2": {"datum": 625}, "y": {"datum": 0.33, "type": "quantitative"}, "y2": {"datum": 0.67}}},
      {"transform": [{"filter": "datum.entry === 'Publications not reporting or adopting aspect in the legend'"}], "mark": {"type": "text", "align": "left", "baseline": "middle", "fontSize": 13.8, "color": "#222"},
       "encoding": {"x": {"datum": 637, "type": "quantitative"}, "y": {"datum": 0.5, "type": "quantitative"}, "text": {"field": "entry"}}}
    ]
  }
],
"config": {
  "font": "Lato",
  "view": {"stroke": "#333", "strokeWidth": 1},
  "axis": {"grid": false, "labelFont": "Liberation Sans", "labelFontWeight": "bold", "labelFontSize": 10, "labelColor": "#333", "titleFont": "Lato", "titleFontWeight": "normal", "titleFontSize": 16.5, "titleColor": "#222", "domainColor": "#333", "tickColor": "#333"},
  "axisX": {"titleFontSize": 18.5},
  "title": {"font": "Lato", "fontSize": 18, "fontWeight": "normal", "color": "#222", "anchor": "start", "frame": "bounds"}
}
}
